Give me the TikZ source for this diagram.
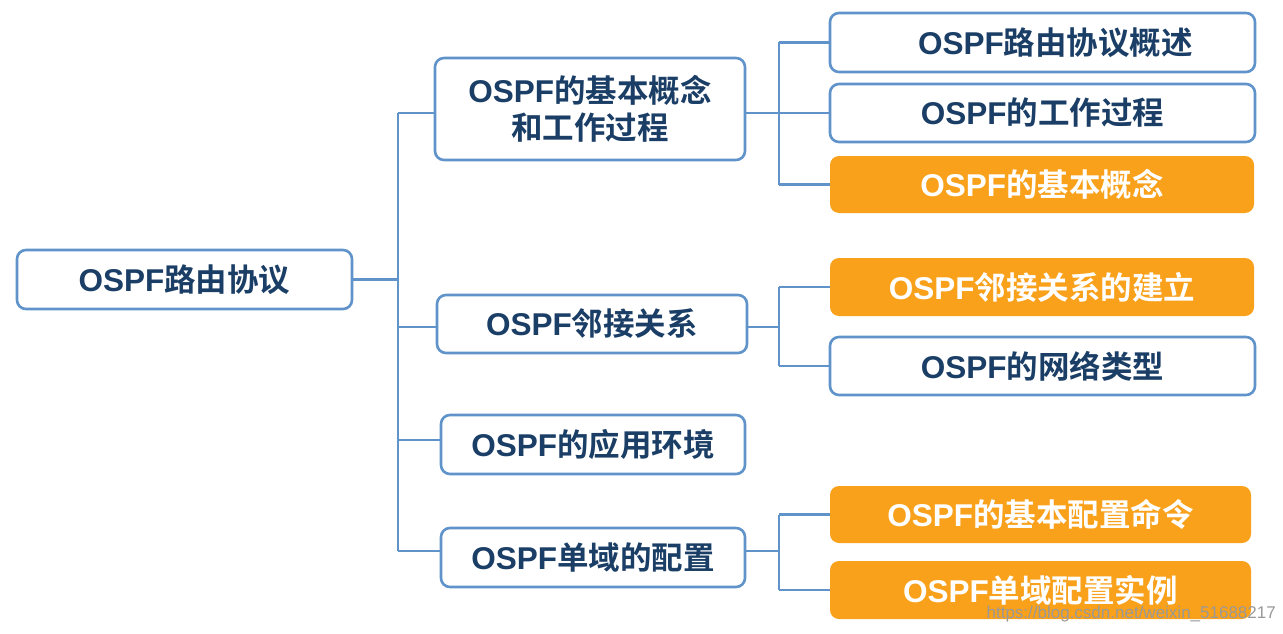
\documentclass[tikz,border=0pt]{standalone}
\usepackage{fontspec}
\newfontfamily\cjk{Noto Sans CJK SC}[BoldFont=* Bold]
\newfontfamily\lat{Liberation Sans}
\newcommand\os{{\lat\bfseries OSPF}}
\definecolor{bline}{HTML}{5F93C9}
\definecolor{navy}{HTML}{1B3E66}
\definecolor{org}{HTML}{F9A11B}
\begin{document}
\begin{tikzpicture}[x=1pt,y=-1pt,
  box/.style={draw=bline,line width=2.6pt,rounded corners=9pt,fill=white,
    text=navy,font=\cjk\bfseries\fontsize{31.5}{37}\selectfont,align=center,inner sep=0pt},
  obox/.style={fill=org,rounded corners=9pt,text=white,
    font=\cjk\bfseries\fontsize{31.5}{37}\selectfont,align=center,inner sep=0pt},
  conn/.style={draw=bline,line width=2.6pt}]
\useasboundingbox[fill=white] (0,0) rectangle (1283,634);
% level 0
\node[box,minimum width=335pt,minimum height=59pt] (root) at (184.5,279.5) {\os 路由协议};
% level 1
\node[box,minimum width=310pt,minimum height=102pt] (A) at (590,109) {\os 的基本概念\\和工作过程};
\node[box,minimum width=310pt,minimum height=58pt] (B) at (592,324) {\os 邻接关系};
\node[box,minimum width=304pt,minimum height=59pt] (C) at (593,444.5) {\os 的应用环境};
\node[box,minimum width=304pt,minimum height=59pt] (D) at (593,557.5) {\os 单域的配置};
% level 2
\node[box,minimum width=425pt,minimum height=59pt] (A1) at (1042.5,42.5) {\hspace*{26pt}\os 路由协议概述};
\node[box,minimum width=425pt,minimum height=58pt] (A2) at (1042.5,113) {\os 的工作过程};
\node[obox,minimum width=424pt,minimum height=57pt] (A3) at (1042,184.5) {\os 的基本概念};
\node[obox,minimum width=424pt,minimum height=58pt] (B1) at (1042,287) {\os 邻接关系的建立};
\node[box,minimum width=425pt,minimum height=58pt] (B2) at (1042.5,366) {\os 的网络类型};
\node[obox,minimum width=421pt,minimum height=57pt] (D1) at (1040.5,514.5) {\os 的基本配置命令};
\node[obox,minimum width=421pt,minimum height=58pt] (D2) at (1040.5,590) {\os 单域配置实例};
% trunks
\coordinate (t0) at (398,280);
\coordinate (ta) at (779,113);
\coordinate (tb) at (779,327);
\coordinate (td) at (779,551);
% level 0 -> 1
\draw[conn] (root.east) -- (root.east -| t0);
\draw[conn] (A.west |- ta) -- (t0 |- ta);
\draw[conn] (t0 |- ta) -- (t0 |- td);
\draw[conn] (B.west |- tb) -- (t0 |- tb);
\draw[conn] (C.west |- 0,440) -- (t0 |- 0,440);
\draw[conn] (D.west |- td) -- (t0 |- td);
% level 1 -> 2
\draw[conn] (A.east |- ta) -- (ta);
\draw[conn] (ta |- A1.west) -- (ta |- A3.west);
\draw[conn] (ta |- A1.west) -- (A1.west);
\draw[conn] (ta |- A2.west) -- (A2.west);
\draw[conn] (ta |- A3.west) -- (A3.west);
\draw[conn] (B.east |- tb) -- (tb);
\draw[conn] (tb |- B1.west) -- (tb |- B2.west);
\draw[conn] (tb |- B1.west) -- (B1.west);
\draw[conn] (tb |- B2.west) -- (B2.west);
\draw[conn] (D.east |- td) -- (td);
\draw[conn] (td |- D1.west) -- (td |- D2.west);
\draw[conn] (td |- D1.west) -- (D1.west);
\draw[conn] (td |- D2.west) -- (D2.west);
% watermark
\node[anchor=east,text=black!40,font=\lat\fontsize{17}{20}\selectfont,inner sep=0pt] (wm) at (1276,614) {https://blog.csdn.net/weixin\_51688217};
\end{tikzpicture}
\end{document}
